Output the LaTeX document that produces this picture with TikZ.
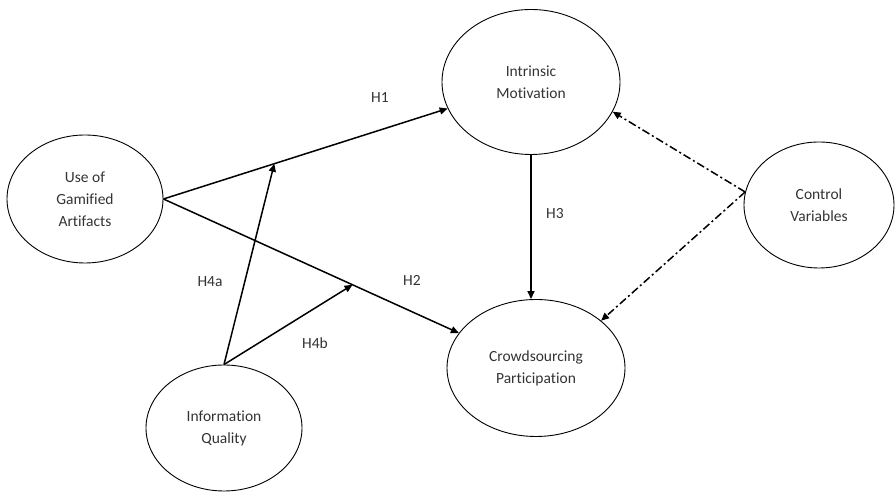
\documentclass[tikz,border=0pt]{standalone}
\usepackage{fontspec}
\setmainfont{Carlito}[Ligatures=NoCommon]
\usetikzlibrary{shapes.geometric, arrows.meta, positioning}

\begin{document}
\begin{tikzpicture}[x=1pt, y=1pt,
        construct/.style={ellipse, draw, line width=0.9pt, inner sep=0pt, align=center,
            text=black!80, font=\fontsize{15.5}{22}\selectfont},
        hyp/.style={line width=1.5pt, -{Triangle[length=8pt, width=7pt]}},
        ctrlpath/.style={hyp, dash pattern=on 8pt off 3pt on 2pt off 3pt},
        hlabel/.style={text=black!80, font=\fontsize{15.5}{18}\selectfont}]
        \useasboundingbox (0,0) rectangle (895,492);
        % constructs
        \node[construct, minimum width=156pt, minimum height=128pt] (use) at (85,293) {Use of\\Gamified\\Artifacts};
        \node[construct, minimum width=178pt, minimum height=145pt] (intr) at (531,410) {Intrinsic\\Motivation};
        \node[construct, minimum width=178pt, minimum height=137pt] (crowd) at (536,124) {Crowdsourcing\\Participation};
        \node[construct, minimum width=156pt, minimum height=126pt] (info) at (224,64) {Information\\Quality};
        \node[construct, minimum width=150pt, minimum height=126pt] (ctrl) at (819,287) {Control\\Variables};
        % main paths
        \draw[hyp] (use.east) -- (intr) coordinate[pos=0.39] (m1);
        \draw[hyp] (use.east) -- (crowd) coordinate[pos=0.64] (m2);
        \draw[hyp] (intr.south) -- (intr.south |- crowd.north);
        % moderation
        \draw[hyp] (info.north) -- (m1);
        \draw[hyp] (info.north) -- (m2);
        % controls
        \draw[ctrlpath] (ctrl.170) -- (intr.-20);
        \draw[ctrlpath] (ctrl.170) -- (crowd.36);
        % labels
        \node[hlabel] (h1) at (380,394) {H1};
        \node[hlabel] (h2) at (412,212) {H2};
        \node[hlabel] (h3) at (555,278) {H3};
        \node[hlabel] (h4a) at (210,210) {H4a};
        \node[hlabel] (h4b) at (315,149) {H4b};
    \end{tikzpicture}
\end{document}
